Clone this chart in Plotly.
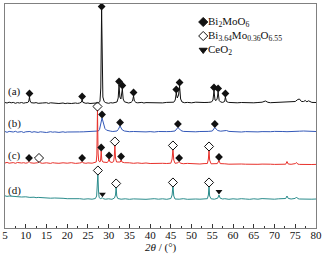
import plotly.graph_objects as go

# ---------------- data (intensity in a.u., relative to each pattern's baseline) ----------------
a_tt = [5, 5.5, 6, 6.5, 7, 7.5, 8, 8.5, 9, 9.5, 10, 10.5, 10.75, 10.9, 11.05, 11.3, 12, 12.5, 13, 13.5, 14, 15, 15.5,
        16, 17, 17.5, 18, 19, 19.5, 20, 21, 22, 22.5, 23, 23.4, 23.6, 23.8, 24.5, 25, 25.5, 26, 26.5, 27, 27.5,
        27.9, 28.1, 28.3, 28.45, 28.6, 28.9, 29.3, 30, 30.5, 31, 31.5, 32, 32.3, 32.5, 32.7, 32.95, 33.3, 33.5,
        33.8, 34.2, 34.8, 35.4, 35.75, 36.0, 36.2, 36.6, 37, 38, 38.5, 39, 40, 40.5, 41, 42, 43, 44, 45, 45.7,
        46.05, 46.3, 46.55, 46.85, 47.1, 47.35, 47.7, 48.3, 49, 50, 51, 52, 53, 54, 54.8, 55.15, 55.4, 55.65,
        55.9, 56.15, 56.4, 56.65, 57, 57.5, 57.95, 58.15, 58.4, 58.9, 59.5, 60, 61, 62, 63, 64, 65, 66, 67,
        67.8, 68.4, 69, 70, 71, 72, 73, 74, 75, 75.6, 76, 76.5, 77, 77.4, 77.8, 78.2, 78.6, 79, 80]
a_int = [0.5, 0, 0.8, 0.2, 0.6, -0.3, 0.4, 0, 0.5, -0.2, 0.3, 0.5, 2, 6, 2, 0.3, 0, 0.4, -0.3, 0.2, 0, 0.3, -0.4,
         0.2, -0.3, 0.1, -0.5, 0, -0.6, -0.2, -0.5, 0, -0.4, 0, 0.8, 3, 0.6, -0.3, 0, -0.5, -0.2, -0.6, -0.3, 0.2,
         1.5, 15, 93, 30, 6, 1.5, 0.3, -0.3, 0.3, 0, 0.4, 1, 5, 18, 6, 4, 14, 4,
         1.2, 0.5, 0, 0.6, 2, 7, 2, 0.5, 0.2, 0.6, 0, 0.4, 0.2, 0.8, 0.2, 0.5, 0.1, 0.6, 0.3, 0.8,
         3, 10, 5, 8, 17, 4, 1, 0.3, 0.6, 0.2, 0.8, 0.3, 0.5, 0.6, 1, 3, 12, 3,
         2.5, 4, 11, 2.5, 1, 0.6, 1.5, 6, 1.5, 0.6, 0.3, 0.6, 0.2, 0.5, 0.3, 0.6, 0.2, 0.5, 0.8,
         2, 0.7, 0.3, 0.5, 0.4, 0.3, 0.6, 0.8, 1.5, 3.5, 4, 1.5, 1.5, 2.5, 1.2, 2.2, 1, 0.6, 0.5]

b_tt = [5, 5.5, 6, 7, 7.5, 8, 9, 9.5, 10, 11, 11.5, 12, 13, 13.5, 14, 15, 16, 16.5, 17, 18, 19, 19.5, 20, 21, 22,
        22.5, 23, 24, 25, 25.5, 26, 26.5, 27, 27.5, 27.8, 28.0, 28.2, 28.4, 28.6, 28.8, 29.1, 29.5, 30, 30.5, 31,
        31.5, 32.0, 32.3, 32.55, 32.75, 33.0, 33.3, 33.8, 34.5, 35, 36, 37, 38, 39, 40, 41, 42, 43, 44, 45, 46.0,
        46.4, 46.7, 47.0, 47.4, 48, 49, 50, 51, 52, 53, 54, 55.0, 55.35, 55.6, 55.9, 56.3, 57, 58, 58.4, 59, 60,
        61, 62, 63, 64, 65, 66, 67, 68, 69, 70, 71, 72, 73, 74, 75, 76, 77, 78, 79, 80]
b_int = [0.5, -0.3, 0.6, 0, 0.7, -0.2, 0.4, -0.5, 0.2, 0.5, -0.3, 0.3, -0.4, 0.2, 0, -0.5, 0.3, -0.2, 0.1, -0.4,
         0.2, -0.3, 0, -0.2, 0.3, -0.3, 0.1, 0.2, 0.4, 0, 0.5, 0.3, 0.7, 1, 2.5, 6, 11, 14, 11, 7, 3.5, 1.8, 1,
         0.8, 0.5, 0.8, 1, 2.5, 5, 6, 4, 2, 1, 0.6, 0.3, 0.5, 0.2, 0.6, 0.1, 0.4, 0, 0.5, 0.2, 0.4, 0.5, 1,
         3, 4.5, 3.5, 1.5, 0.6, 0.3, 0.6, 0.2, 0.5, 0.3, 0.6, 1, 3, 4.5, 3, 1.5, 0.8, 1, 1.5, 0.6, 0.3,
         0.5, 0, 0.4, 0.2, 0.5, 0.1, 0.4, 0.2, 0.3, 0.6, 0.2, 0.5, 0.3, 0.7, 1, 0.8, 1, 0.6, 0.2, 0.5]

c_tt = [5, 5.5, 6, 7, 7.5, 8, 9, 9.5, 10, 10.5, 10.8, 11.1, 12, 12.9, 13.2, 13.5, 14, 15, 16, 16.5, 17, 18, 19,
        20, 21, 22, 23, 23.4, 23.6, 23.8, 24.5, 25, 26, 26.5, 27.0, 27.15, 27.3, 27.45, 27.6, 27.9, 28.05,
        28.2, 28.35, 28.6, 29, 29.6, 29.9, 30.1, 30.3, 30.8, 31.2, 31.35, 31.5, 31.65, 31.9, 32.5, 32.8, 33.0,
        33.2, 33.8, 34.5, 35, 36, 37, 38, 39, 40, 41, 42, 43, 44, 45.0, 45.3, 45.5, 45.7, 46.0, 46.7, 47.0,
        47.3, 48, 49, 50, 51, 52, 53, 53.8, 54.05, 54.2, 54.35, 54.7, 56.2, 56.6, 56.9, 57.5, 58, 59, 60, 61,
        62, 63, 64, 65, 66, 67, 68, 69, 70, 71, 72, 72.7, 73.0, 73.3, 74, 75.0, 75.3, 75.6, 76, 77, 78, 79, 80]
c_int = [0, 0.6, -0.2, 0.4, -0.3, 0.5, 0, 0.3, -0.2, 0.3, 1.5, 0.2, -0.2, 0.3, 1.5, 0.2, -0.3, 0.2, -0.4, 0.3, 0,
         -0.3, 0.2, -0.2, 0.3, -0.4, 0, 0.3, 1.5, 0.2, -0.3, 0.1, -0.2, 0.3, 1, 8, 53, 10, 2, 1, 3,
         12, 3, 1, 0.5, 0.5, 1.5, 4, 1.2, 0.5, 1.5, 6, 18, 5, 1, 0.5, 1, 3,
         1, 0.3, -0.2, 0.2, -0.3, 0.1, -0.4, 0, -0.5, -0.2, -0.6, -0.3, -0.5, -0.2, 4, 14, 3, -0.3, 0.2, 1.5,
         -0.2, -0.7, -0.4, -0.8, -0.5, -1, -0.6, -0.5, 4, 13, 3, -0.8, -0.6, 2.5, -0.6, -1, -0.8, -1.2, -0.9, -1.3,
         -1, -1.2, -1.4, -1, -1.3, -1.1, -1.5, -1.2, -1.4, -1.1, -1.5, -1.2, 1.5, -1, -1.3, -0.6, 0.5, -1.1, -1.4, -1.6, -1.2, -1.5, -1.4]

d_tt = [5, 5.5, 6, 7, 8, 8.5, 9, 10, 11, 12, 12.5, 13, 14, 15, 16, 17, 18, 19, 20, 21, 22, 23, 24, 25, 26,
        26.8, 27.1, 27.25, 27.4, 27.55, 27.7, 28.0, 28.3, 28.5, 28.7, 29.2, 30, 30.8, 31.4, 31.65, 31.8, 31.95,
        32.2, 33, 34, 35, 36, 37, 38, 39, 40, 41, 42, 43, 44, 45.0, 45.3, 45.5, 45.7, 46.0, 47, 48, 49, 50, 51,
        52, 53, 53.8, 54.05, 54.2, 54.35, 54.7, 55.5, 56.3, 56.6, 56.9, 57.5, 58, 59, 60, 61, 62, 63, 64, 65,
        66, 67, 68, 69, 70, 71, 72, 72.7, 73.0, 73.3, 74, 75.0, 75.3, 75.6, 76, 77, 78, 79, 80]
d_int = [3.2, 2.6, 3.0, 2.6, 2.2, 2.6, 2.0, 2.2, 1.6, 1.8, 1.3, 1.6, 1.1, 1.3, 0.8, 1.0, 0.5, 0.7, 0.3, 0.5, 0, 0.3,
         -0.2, 0.2, -0.2, 0.5, 3, 10, 25, 8, 1.5, 0.4, 0.6, 1.2, 0.3, -0.2, 0.2, -0.3, 1, 4, 12, 3,
         0.5, -0.2, 0.2, -0.3, 0.1, -0.2, 0.2, -0.3, 0, 0.3, -0.2, 0.2, -0.3, 0.5, 4, 13, 3, 0, -0.2, 0.3, -0.3,
         0.2, 0, -0.2, 0.3, 0.3, 4, 13, 3, 0.2, -0.2, 0.8, 4, 0.8, 0, 0.3, -0.3, 0.2, -0.2, 0.3, 0, -0.3, 0.2,
         -0.2, 0.4, 0, 0.3, -0.2, 0.2, 0, 0.5, 3, 0.6, 0, 0.6, 2, 0.4, 0, -0.2, 0.3, -0.2, 0]

pattern_labels = ["(a)", "(b)", "(c)", "(d)"]
pattern_colors = ["#111111", "#3358b8", "#e8312b", "#2a8c8c"]

# phase markers (2θ positions) per pattern
bmo_peaks = {"a": [10.9, 23.6, 28.3, 32.5, 33.3, 36.0, 46.3, 47.1, 55.4, 56.4, 58.15],
             "b": [28.4, 32.75, 46.7, 55.6],
             "c": [10.8, 23.6, 28.2, 30.1, 33.0, 47.0, 56.6]}
bi364_peaks = {"c": [13.2, 27.3, 31.5, 45.5, 54.2],
               "d": [27.4, 31.8, 45.5, 54.2]}
ceo2_peaks = {"d": [28.5, 56.6]}

legend_names = ["Bi<sub>2</sub>MoO<sub>6</sub>",
                "Bi<sub>3.64</sub>Mo<sub>0.36</sub>O<sub>6.55</sub>",
                "CeO<sub>2</sub>"]

x_ticks = list(range(5, 81, 5))
x_title = "<i>2θ</i> / (°)"

# ---------------- layout constants ----------------
offsets = {"a": 125, "b": 96, "c": 65, "d": 29}
series = {"a": (a_tt, a_int), "b": (b_tt, b_int), "c": (c_tt, c_int), "d": (d_tt, d_int)}
keys = ["a", "b", "c", "d"]
SERIF = "Liberation Serif"
TXT = "#111111"


def interp(xs, ys, x):
    for i in range(len(xs) - 1):
        if xs[i] <= x <= xs[i + 1]:
            t = (x - xs[i]) / (xs[i + 1] - xs[i]) if xs[i + 1] != xs[i] else 0
            return ys[i] + t * (ys[i + 1] - ys[i])
    return ys[-1]


fig = go.Figure()
for k, col in zip(keys, pattern_colors):
    xs, ys = series[k]
    fig.add_trace(go.Scatter(x=xs, y=[v + offsets[k] for v in ys], mode="lines",
                             line=dict(color=col, width=1), showlegend=False, hoverinfo="skip"))

MARK_GAP = 3.5


def add_markers(peaks, symbol, size, lw):
    for k, pos in peaks.items():
        xs, ys = series[k]
        yy = [max(interp(xs, ys, p), 0) + offsets[k] + MARK_GAP for p in pos]
        fig.add_trace(go.Scatter(x=pos, y=yy, mode="markers", showlegend=False, hoverinfo="skip",
                                 marker=dict(symbol=symbol, size=size, color=TXT,
                                             line=dict(width=lw, color="#555555" if "open" in symbol else TXT))))


add_markers(bmo_peaks, "diamond", 6, 0)
add_markers(bi364_peaks, "diamond-open", 7, 1)
add_markers(ceo2_peaks, "triangle-down", 6, 0)

# manual legend
leg_x = 52.8
leg_y = [206, 192, 178]
leg_sym = ["diamond", "diamond-open", "triangle-down"]
for name, yy, sym in zip(legend_names, leg_y, leg_sym):
    fig.add_trace(go.Scatter(x=[leg_x], y=[yy], mode="markers", showlegend=False, hoverinfo="skip",
                             marker=dict(symbol=sym, size=7, color=TXT,
                                         line=dict(width=1, color="#555555" if "open" in sym else TXT))))
    fig.add_annotation(x=leg_x + 0.7, y=yy, text=name, showarrow=False, xanchor="left", yanchor="middle",
                       font=dict(family=SERIF, size=11, color=TXT))

label_rise = {"a": 12, "b": 9, "c": 8, "d": 9}
for k, lab in zip(keys, pattern_labels):
    fig.add_annotation(x=7.4, y=offsets[k] + label_rise[k], text=lab, showarrow=False,
                       xanchor="center", yanchor="middle", font=dict(family=SERIF, size=11, color=TXT))

fig.add_annotation(x=0.5, y=-0.089, xref="paper", yref="paper", text=x_title, showarrow=False,
                   xanchor="center", yanchor="middle", font=dict(family=SERIF, size=11, color=TXT))

fig.update_layout(
    width=326, height=260,
    margin=dict(l=5, r=10, t=4, b=32, autoexpand=False),
    paper_bgcolor="white", plot_bgcolor="white",
    font=dict(family=SERIF, size=11, color=TXT),
    xaxis=dict(range=[5, 80], tickvals=x_ticks, ticks="inside", ticklen=4, tickcolor="#333333",
               showline=True, linecolor="#808080", linewidth=1, mirror=True, showgrid=False, zeroline=False,
               automargin=False, ticklabelstandoff=-3,
               minor=dict(dtick=2.5, tick0=5, ticks="inside", ticklen=2, tickcolor="#333333"),
               tickfont=dict(family=SERIF, size=11, color=TXT)),
    yaxis=dict(range=[0, 224], showticklabels=False, ticks="", showline=True, linecolor="#808080",
               linewidth=1, mirror=True, showgrid=False, zeroline=False, automargin=False),
)

fig.write_html("out.html", config={"displayModeBar": False},
               post_script="document.body.style.margin='0';document.body.style.overflow='hidden';")
